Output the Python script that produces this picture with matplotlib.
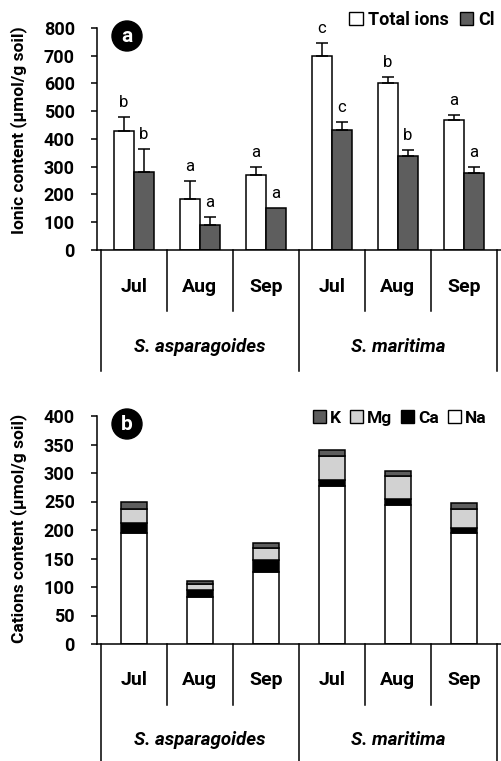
import numpy as np
import matplotlib
matplotlib.use("Agg")
import matplotlib.pyplot as plt
from matplotlib.patches import Patch, Circle
from matplotlib.transforms import blended_transform_factory

plt.rcParams['font.family'] = ['Roboto', 'DejaVu Sans']

# data
months = ['Jul', 'Aug', 'Sep', 'Jul', 'Aug', 'Sep']
species = ['S. asparagoides', 'S. maritima']

total_ions = [430, 185, 272, 700, 600, 468]
total_err = [48, 65, 28, 45, 22, 19]
total_letters = ['b', 'a', 'a', 'c', 'b', 'a']
cl = [280, 90, 150, 432, 338, 277]
cl_err = [85, 28, 0, 28, 24, 23]
cl_letters = ['b', 'a', 'a', 'c', 'b', 'a']

na = [195, 83, 127, 277, 244, 194]
ca = [18, 12, 20, 10, 10, 10]
mg = [24, 10, 22, 42, 40, 33]
k = [12, 5, 9, 11, 10, 10]

W, H = 502, 761
fig = plt.figure(figsize=(W / 100, H / 100), dpi=100)


def fy(p):
    return 1 - p / H


ax1 = fig.add_axes([97 / W, fy(250), (W - 97) / W, 222 / H])
ax2 = fig.add_axes([97 / W, fy(644), (W - 97) / W, 228 / H])

x = np.arange(6)
dark = '#5e5e5e'
light = '#d2d2d2'

# panel a
bw = 0.3
ax1.bar(x - bw / 2, total_ions, bw, color='white', edgecolor='black', linewidth=1.1, zorder=2)
ax1.bar(x + bw / 2, cl, bw, color=dark, edgecolor='black', linewidth=1.1, zorder=2)
for xs, vals, errs, lets in [(x - bw / 2, total_ions, total_err, total_letters),
                             (x + bw / 2, cl, cl_err, cl_letters)]:
    for xi, v, e, l in zip(xs, vals, errs, lets):
        if e > 0:
            ax1.errorbar(xi, v, yerr=[[0], [e]], fmt='none', ecolor='black',
                         elinewidth=1.1, capsize=4, capthick=1.1, zorder=3)
        ax1.annotate(l, (xi, v + e), xytext=(0, 5), textcoords='offset points',
                     ha='center', va='bottom', fontsize=12)
ax1.set_ylim(0, 800)
ax1.set_yticks(range(0, 801, 100))

# panel b
bw2 = 0.4
bottom = np.zeros(6)
for vals, col in [(na, 'white'), (ca, 'black'), (mg, light), (k, dark)]:
    ax2.bar(x, vals, bw2, bottom=bottom, color=col, edgecolor='black', linewidth=1.1, zorder=2)
    bottom += np.array(vals)
ax2.set_ylim(0, 400)
ax2.set_yticks(range(0, 401, 50))

for ax in (ax1, ax2):
    ax.set_xlim(-0.56, 5.58)
    ax.set_xticks([])
    for s in ('top', 'right'):
        ax.spines[s].set_visible(False)
    ax.spines['left'].set_linewidth(1.1)
    ax.spines['bottom'].set_linewidth(1.1)
    ax.tick_params(axis='y', length=4, width=1.1, pad=12, labelsize=13)
    for t in ax.get_yticklabels():
        t.set_fontweight('bold')
    ax.set_facecolor('none')


def category_table(ax, base, sep_end, outer_end, month_y, sp_y):
    tr = blended_transform_factory(ax.transData, fig.transFigure)
    for b in [0.5, 1.5, 3.5, 4.5]:
        ax.plot([b, b], [fy(base), fy(sep_end)], color='black', lw=1.1, transform=tr, clip_on=False)
    for b in [-0.5, 2.5, 5.5]:
        ax.plot([b, b], [fy(base), fy(outer_end)], color='black', lw=1.1, transform=tr, clip_on=False)
    for xi, m in zip(x, months):
        ax.text(xi, fy(month_y), m, transform=tr, ha='center', va='center',
                fontsize=14, fontweight='bold')
    for xi, sp in zip([1, 4], species):
        ax.text(xi, fy(sp_y), sp, transform=tr, ha='center', va='center',
                fontsize=13.5, fontweight='bold', style='italic')


category_table(ax1, 250, 311, 371, 287, 347)
category_table(ax2, 644, 705, 765, 680, 740)

fig.text(19 / W, fy(130), 'Ionic content (µmol/g soil)', rotation=90, ha='center', va='center',
         fontsize=12.5, fontweight='bold')
fig.text(19 / W, fy(528), 'Cations content (µmol/g soil)', rotation=90, ha='center', va='center',
         fontsize=12.5, fontweight='bold')

# panel labels
for cy, lab in [(36, 'a'), (424, 'b')]:
    fig.patches.append(Circle((127, H - cy), 15, transform=None, color='black'))
    fig.text(127 / W, fy(cy + 1), lab, color='white', ha='center', va='center',
             fontsize=15, fontweight='bold')

# legends
h1 = [Patch(facecolor='white', edgecolor='black', linewidth=1),
      Patch(facecolor=dark, edgecolor='black', linewidth=1)]
fig.legend(h1, ['Total ions', 'Cl'], loc='center left', bbox_to_anchor=(349 / W, fy(20)),
           ncol=2, frameon=False, handlelength=0.75, handleheight=0.75, handletextpad=0.3,
           columnspacing=0.6, borderpad=0, borderaxespad=0,
           prop={'size': 13, 'weight': 'bold'})
h2 = [Patch(facecolor=dark, edgecolor='black', linewidth=1),
      Patch(facecolor=light, edgecolor='black', linewidth=1),
      Patch(facecolor='black', edgecolor='black', linewidth=1),
      Patch(facecolor='white', edgecolor='black', linewidth=1)]
fig.legend(h2, ['K', 'Mg', 'Ca', 'Na'], loc='center left', bbox_to_anchor=(313 / W, fy(418)),
           ncol=4, frameon=False, handlelength=0.75, handleheight=0.75, handletextpad=0.2,
           columnspacing=0.55, borderpad=0, borderaxespad=0,
           prop={'size': 12.5, 'weight': 'bold'})

fig.savefig('out.png', dpi=100)
